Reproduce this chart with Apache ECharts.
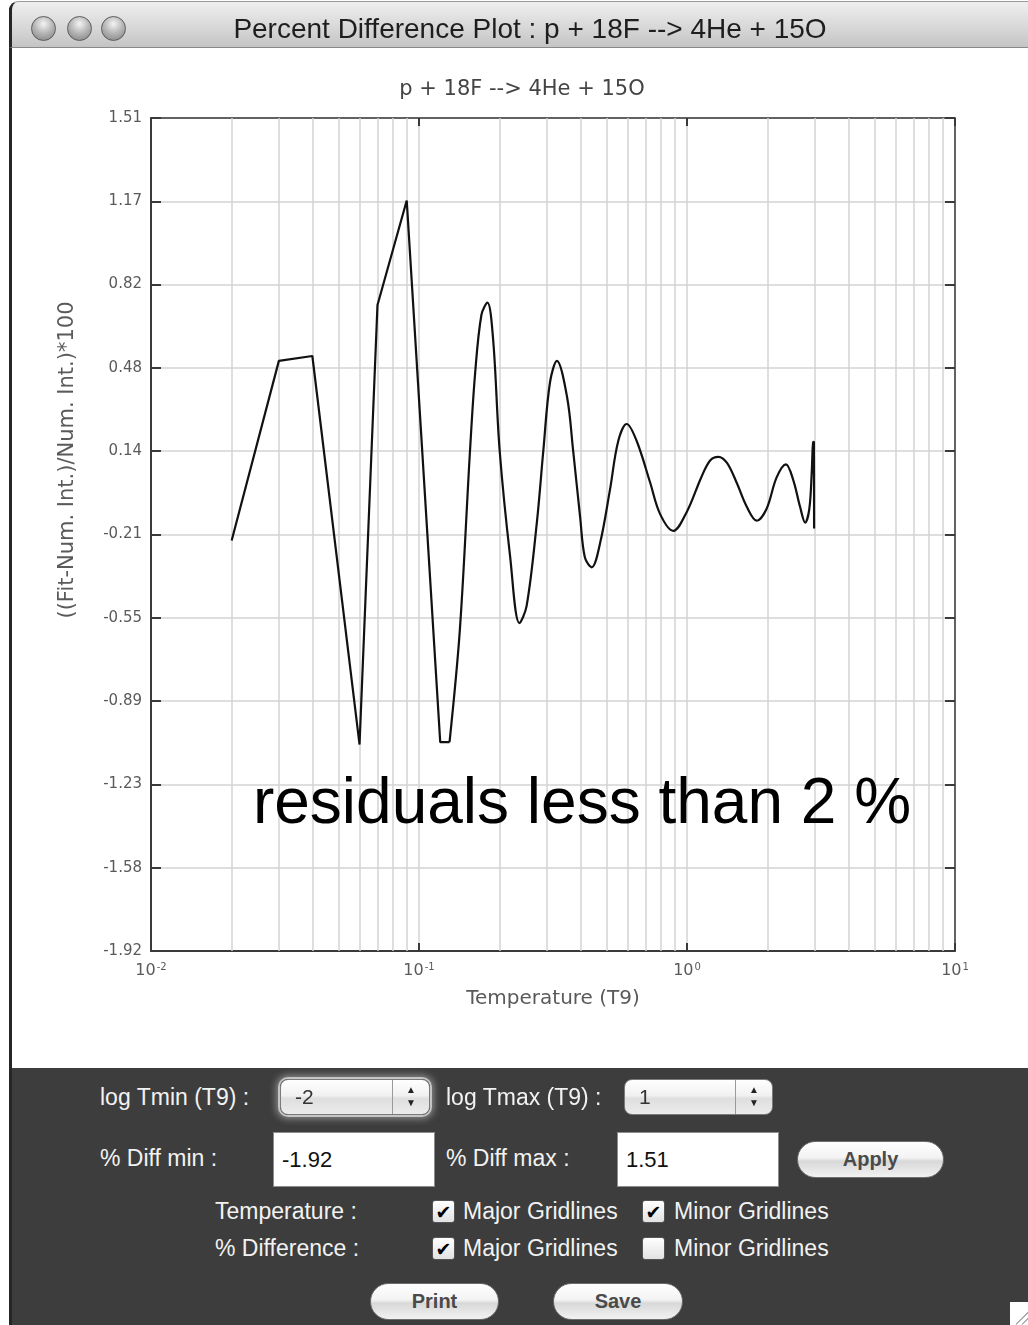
<!DOCTYPE html>
<html>
<head>
<meta charset="utf-8">
<script src="https://cdn.jsdelivr.net/npm/echarts@6/dist/echarts.min.js"></script>
<style>
  html, body { margin:0; padding:0; }
  body { width:1028px; height:1325px; overflow:hidden; background:#fff; position:relative;
         font-family:"Liberation Sans", Arial, sans-serif; }
  #chart { position:absolute; left:0; top:0; width:1028px; height:1068px; }
  #leftborder { position:absolute; left:9px; top:8px; width:3px; height:1317px; background:#262626; z-index:5; }
  #titlebar { position:absolute; left:9px; top:1px; width:1040px; height:45px; z-index:6;
              background:linear-gradient(#efefef, #d6d6d6 60%, #c4c4c4); border-top-left-radius:9px;
              border-bottom:1px solid #8a8a8a; border-left:3px solid #262626; border-top:1px solid #9a9a9a; }
  .light { position:absolute; top:14px; width:25px; height:25px; border-radius:50%;
           background:radial-gradient(circle at 50% 30%, #f4f4f4 0%, #b9b9b9 45%, #7d7d7d 100%);
           border:1px solid #5c5c5c; box-sizing:border-box; }
  #wintitle { position:absolute; left:0; top:4px; width:1036px; height:45px; line-height:45px; text-align:center;
              font-size:28px; color:#1e1e1e; }
  #panel { position:absolute; left:12px; top:1068px; width:1016px; height:257px; background:#3d3d3d; }
  .lbl { position:absolute; height:40px; line-height:40px; margin-top:-20px; white-space:nowrap;
         color:#f2f2f2; font-size:23px; }
  .spin { position:absolute; height:36px; border-radius:8px; box-sizing:border-box;
          background:linear-gradient(#ffffff, #f1f1f1 45%, #dedede 55%, #ececec); border:1px solid #7a7a7a; }
  .spin .val { position:absolute; left:14px; top:0; line-height:34px; font-size:21px; color:#333; }
  .spin .div { position:absolute; right:36px; top:0; width:1px; height:34px; background:#9a9a9a; }
  .spin .arr { position:absolute; right:10px; top:3px; width:16px; font-size:10px; line-height:13px; color:#222; text-align:center; }
  .inp { position:absolute; width:162px; height:55px; background:#fff; box-sizing:border-box;
         border:1px solid #8c8c8c; font-size:22px; color:#111; line-height:53px; padding-left:8px; }
  .btn { position:absolute; height:37px; border-radius:19px; box-sizing:border-box; border:1px solid #6f6f6f;
         background:linear-gradient(#ffffff, #f3f3f3 45%, #d8d8d8 55%, #f2f2f2);
         font-weight:bold; font-size:20px; color:#4a4a4a; text-align:center; line-height:35px; }
  .cb { position:absolute; width:23px; height:23px; box-sizing:border-box; border:1px solid #555; border-radius:3px;
        background:linear-gradient(#ffffff, #e2e2e2); font-family:"DejaVu Sans", sans-serif; font-size:19px;
        line-height:22px; text-align:center; color:#000; }
  #grip { position:absolute; left:1010px; top:1302px; width:18px; height:23px; background:#fff; }
  #grip div { position:absolute; height:1px; background:#888; transform:rotate(-45deg); transform-origin:left; }
</style>
</head>
<body>
<div id="chart"></div>
<div id="leftborder"></div>
<div id="titlebar">
  <div id="wintitle">Percent Difference Plot : p + 18F --&gt; 4He + 15O</div>
  <div class="light" style="left:19px"></div>
  <div class="light" style="left:55px"></div>
  <div class="light" style="left:89px"></div>
</div>
<div id="panel"></div>

<div class="lbl" style="left:100px; top:1097px">log Tmin (T9) :</div>
<div class="spin" style="left:280px; top:1079px; width:150px; box-shadow:0 0 0 2px rgba(210,210,210,0.85), 0 0 7px 4px rgba(170,170,170,0.7);">
  <div class="val">-2</div><div class="div"></div><div class="arr">&#9650;<br>&#9660;</div>
</div>
<div class="lbl" style="left:446px; top:1097px">log Tmax (T9) :</div>
<div class="spin" style="left:624px; top:1079px; width:149px;">
  <div class="val">1</div><div class="div"></div><div class="arr">&#9650;<br>&#9660;</div>
</div>

<div class="lbl" style="left:100px; top:1158px">% Diff min :</div>
<div class="inp" style="left:273px; top:1132px">-1.92</div>
<div class="lbl" style="left:446px; top:1158px">% Diff max :</div>
<div class="inp" style="left:617px; top:1132px">1.51</div>
<div class="btn" style="left:797px; top:1141px; width:147px;">Apply</div>

<div class="lbl" style="left:215px; top:1211px">Temperature :</div>
<div class="cb" style="left:432px; top:1200px">&#10004;</div>
<div class="lbl" style="left:463px; top:1211px">Major Gridlines</div>
<div class="cb" style="left:642px; top:1200px">&#10004;</div>
<div class="lbl" style="left:674px; top:1211px">Minor Gridlines</div>

<div class="lbl" style="left:215px; top:1248px">% Difference :</div>
<div class="cb" style="left:432px; top:1237px">&#10004;</div>
<div class="lbl" style="left:463px; top:1248px">Major Gridlines</div>
<div class="cb" style="left:642px; top:1237px"></div>
<div class="lbl" style="left:674px; top:1248px">Minor Gridlines</div>

<div class="btn" style="left:370px; top:1283px; width:129px;">Print</div>
<div class="btn" style="left:553px; top:1283px; width:130px;">Save</div>
<div id="grip"><div style="left:6px; top:22px; width:22px;"></div><div style="left:12px; top:22px; width:12px;"></div></div>

<script>
// ---- data ----
const temperature = [0.02, 0.03, 0.04, 0.06, 0.07, 0.09, 0.12, 0.13,
  0.142, 0.155, 0.162, 0.171, 0.180, 0.189, 0.200,
  0.219, 0.237, 0.252, 0.275, 0.291, 0.308, 0.327,
  0.357, 0.376, 0.399, 0.416, 0.441, 0.474, 0.516,
  0.554, 0.596, 0.649, 0.728, 0.793, 0.889, 1.00,
  1.13, 1.22, 1.31, 1.41, 1.53, 1.67, 1.82,
  1.98, 2.16, 2.34, 2.49, 2.64, 2.76, 2.86,
  2.92, 2.95, 2.96, 2.965, 2.97, 2.975, 2.98];
const percentDiff = [-0.23, 0.51, 0.53, -1.07, 0.74, 1.17, -1.06, -1.06,
  -0.60, 0.14, 0.46, 0.70, 0.75, 0.60, 0.14,
  -0.30, -0.57, -0.50, -0.16, 0.14, 0.42, 0.51,
  0.36, 0.14, -0.13, -0.30, -0.34, -0.24, -0.02,
  0.18, 0.25, 0.18, 0.01, -0.12, -0.19, -0.11,
  0.03, 0.10, 0.115, 0.09, 0.01, -0.09, -0.148,
  -0.10, 0.03, 0.084, 0.02, -0.09, -0.156, -0.10,
  0.05, 0.177, 0.05, 0.177, 0.05, 0.177, -0.18];
const coarseCount = 8;   // first points joined by straight segments
const yTickLabels = ['-1.92', '-1.58', '-1.23', '-0.89', '-0.55', '-0.21', '0.14', '0.48', '0.82', '1.17', '1.51'];
const xTickExponents = ['-2', '-1', '0', '1'];
const minorGridT = [0.02, 0.03, 0.04, 0.05, 0.06, 0.07, 0.08, 0.09,
  0.2, 0.3, 0.4, 0.5, 0.6, 0.7, 0.8, 0.9,
  2, 3, 4, 5, 6, 7, 8, 9];
const yMin = -1.92, yMax = 1.51;
const xMin = 0.01, xMax = 10;
const chartTitle = 'p + 18F --> 4He + 15O';
const yName = '((Fit-Num. Int.)/Num. Int.)*100';
const xName = 'Temperature (T9)';
const note = 'residuals less than 2 %';

const GRID = '#d3d3d3', AXIS = '#3a3a3a', LABEL = '#5a5a5a';
const FONT = '"DejaVu Sans", "Liberation Sans", sans-serif';

const chart = echarts.init(document.getElementById('chart'), null, { renderer: 'canvas' });
const pairs = temperature.map((t, i) => [t, percentDiff[i]]);
const coarse = pairs.slice(0, coarseCount);
const fine = pairs.slice(coarseCount - 1);

const lineStyle = { color: '#111111', width: 2.2 };

const option = {
  animation: false,
  backgroundColor: '#ffffff',
  grid: { left: 151, top: 118, width: 804, height: 833, containLabel: false },
  xAxis: [
    {
      type: 'log', logBase: 10, min: xMin, max: xMax, position: 'bottom',
      name: xName, nameLocation: 'middle', nameGap: 38,
      nameTextStyle: { fontFamily: FONT, fontSize: 20, color: LABEL },
      axisLine: { show: true, onZero: false, lineStyle: { color: AXIS, width: 2 } },
      axisTick: { show: true, inside: true, length: 8, lineStyle: { color: AXIS, width: 2 } },
      axisLabel: {
        margin: 11, color: LABEL, fontFamily: FONT, fontSize: 16,
        formatter: function (v) {
          const e = Math.round(Math.log10(v));
          return '{b|10}{s|' + xTickExponents[e + 2] + '}';
        },
        rich: {
          b: { fontFamily: FONT, fontSize: 16, color: LABEL },
          s: { fontFamily: FONT, fontSize: 10, color: LABEL, verticalAlign: 'top', padding: [0, 0, 8, 1] }
        }
      },
      splitLine: { show: true, lineStyle: { color: GRID, width: 1.5 } }
    },
    {
      type: 'log', logBase: 10, min: xMin, max: xMax, position: 'top',
      axisLine: { show: true, onZero: false, lineStyle: { color: AXIS, width: 1.5 } },
      axisTick: { show: true, inside: true, length: 8, lineStyle: { color: AXIS, width: 2 } },
      axisLabel: { show: false }, splitLine: { show: false }
    }
  ],
  yAxis: [
    { type: 'value', min: yMin, max: yMax, show: false, axisLine: { onZero: false }, splitLine: { show: false } },
    {
      type: 'value', min: 0, max: yTickLabels.length - 1, interval: 1, position: 'left',
      axisLine: { show: true, onZero: false, lineStyle: { color: AXIS, width: 2 } },
      axisTick: { show: true, inside: true, length: 10, lineStyle: { color: AXIS, width: 2 } },
      axisLabel: {
        margin: 9, color: LABEL, fontFamily: FONT, fontSize: 15,
        formatter: function (v) { return yTickLabels[Math.round(v)]; }
      },
      splitLine: { show: true, lineStyle: { color: GRID, width: 1.5 } }
    },
    {
      type: 'value', min: 0, max: yTickLabels.length - 1, interval: 1, position: 'right',
      axisLine: { show: true, onZero: false, lineStyle: { color: AXIS, width: 1.5 } },
      axisTick: { show: true, inside: true, length: 10, lineStyle: { color: AXIS, width: 2 } },
      axisLabel: { show: false }, splitLine: { show: false }
    }
  ],
  series: [
    {
      type: 'line', xAxisIndex: 0, yAxisIndex: 0, data: coarse, z: 4,
      showSymbol: false, symbol: 'none', smooth: false,
      lineStyle: lineStyle, emphasis: { disabled: true },
      markLine: {
        silent: true, z: 1, symbol: ['none', 'none'], animation: false,
        label: { show: false },
        emphasis: { disabled: true },
        lineStyle: { color: GRID, width: 1.5, type: 'solid' },
        data: minorGridT.map(t => ({ xAxis: t }))
      }
    },
    {
      type: 'line', xAxisIndex: 0, yAxisIndex: 0, data: fine, z: 4,
      showSymbol: false, symbol: 'none', smooth: 0.35,
      lineStyle: lineStyle, emphasis: { disabled: true }
    }
  ],
  graphic: [
    { type: 'text', x: 522, y: 90, z: 10,
      style: { text: chartTitle, fill: '#444', font: '21px ' + FONT, textAlign: 'center', textVerticalAlign: 'middle' } },
    { type: 'text', x: 68, y: 460, rotation: Math.PI / 2, z: 10,
      style: { text: yName, fill: LABEL, font: '21px ' + FONT, textAlign: 'center', textVerticalAlign: 'middle' } },
    { type: 'text', x: 582, y: 805, z: 10,
      style: { text: note, fill: '#000', font: '64px "Liberation Sans", Arial, sans-serif', textAlign: 'center', textVerticalAlign: 'middle' } }
  ]
};
chart.setOption(option);
</script>
</body>
</html>
